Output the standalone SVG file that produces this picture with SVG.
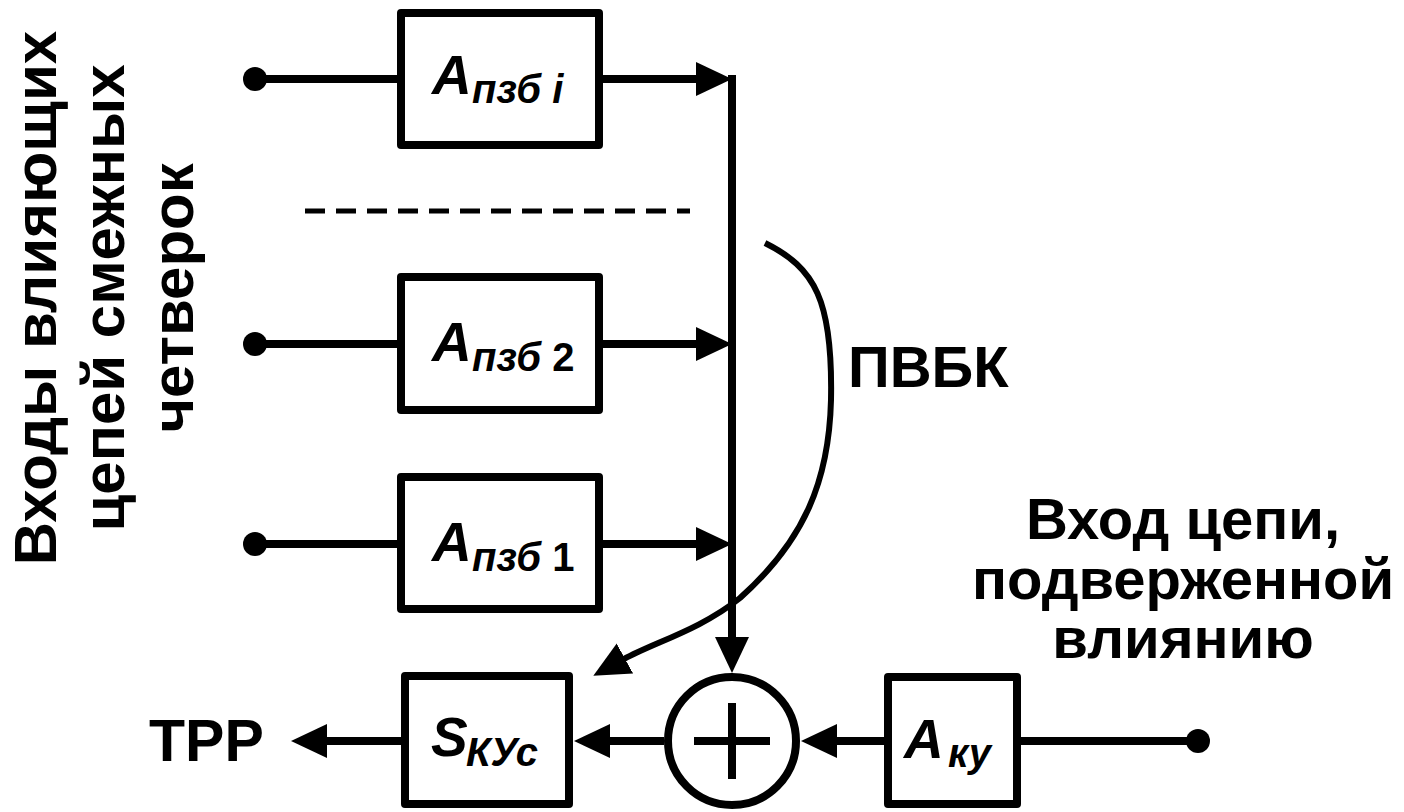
<svg xmlns="http://www.w3.org/2000/svg" width="1404" height="812" viewBox="0 0 1404 812">
<style>
.box{fill:#fff;stroke:#000;stroke-width:8;stroke-linejoin:round}
.ln{fill:none;stroke:#000;stroke-width:8}
.cv{fill:none;stroke:#000;stroke-width:6}
.lbl{font-family:"Liberation Sans",Arial,sans-serif;font-weight:bold;fill:#000}
.big{font-family:"Liberation Sans",Arial,sans-serif;font-weight:bold;font-style:italic;font-size:55px;fill:#000}
.sub{font-family:"Liberation Sans",Arial,sans-serif;font-weight:bold;font-style:italic;font-size:40px;fill:#000}
.up{font-style:normal}
</style>
<defs>
<marker id="ah" markerUnits="userSpaceOnUse" markerWidth="40" markerHeight="36" refX="1" refY="17" orient="auto">
<path d="M0,0 L36,17 L0,34 z" fill="#000"/>
</marker>
</defs>
<rect width="1404" height="812" fill="#fff"/>
<g id="connectors">
<line class="ln" x1="255" y1="79" x2="401" y2="79"/>
<line class="ln" x1="599" y1="79" x2="697" y2="79" marker-end="url(#ah)"/>
<line class="ln" x1="255" y1="344" x2="401" y2="344"/>
<line class="ln" x1="599" y1="344" x2="697" y2="344" marker-end="url(#ah)"/>
<line class="ln" x1="255" y1="544" x2="401" y2="544"/>
<line class="ln" x1="599" y1="544" x2="697" y2="544" marker-end="url(#ah)"/>
<line class="ln" x1="732" y1="75" x2="732" y2="638" marker-end="url(#ah)"/>
<line class="ln" x1="1198" y1="741" x2="1017" y2="741"/>
<line class="ln" x1="888" y1="741" x2="836" y2="741" marker-end="url(#ah)"/>
<line class="ln" x1="664" y1="741" x2="609" y2="741" marker-end="url(#ah)"/>
<line class="ln" x1="405" y1="741" x2="326" y2="741" marker-end="url(#ah)"/>
<path class="cv" d="M765,243 C815,268 833,300 831,400 C829,480 805,540 740,598 C700,630 655,642 624,659" marker-end="url(#ah)"/>
<line x1="305" y1="211" x2="690" y2="211" stroke="#000" stroke-width="5" stroke-dasharray="20 11"/>
</g>
<g id="dots">
<circle cx="255" cy="79" r="12"/>
<circle cx="255" cy="344" r="12"/>
<circle cx="255" cy="544" r="12"/>
<circle cx="1198" cy="741" r="12"/>
</g>
<g id="node-apzb-i">
<rect class="box" x="401" y="13" width="198" height="132"/>
<text class="big" x="432" y="94">A</text>
<text class="sub" x="472" y="103">пзб i</text>
</g>
<g id="node-apzb-2">
<rect class="box" x="401" y="277" width="198" height="133"/>
<text class="big" x="432" y="361">A</text>
<text class="sub" x="472" y="371">пзб <tspan class="up">2</tspan></text>
</g>
<g id="node-apzb-1">
<rect class="box" x="401" y="477" width="198" height="132"/>
<text class="big" x="432" y="561">A</text>
<text class="sub" x="472" y="571">пзб <tspan class="up">1</tspan></text>
</g>
<g id="node-sum">
<circle cx="732" cy="741" r="64" fill="#fff" stroke="#000" stroke-width="8"/>
<line class="ln" x1="694" y1="741" x2="770" y2="741"/>
<line class="ln" x1="732" y1="703" x2="732" y2="779"/>
</g>
<g id="node-skuc">
<rect class="box" x="405" y="676" width="164" height="128"/>
<text class="big" x="431" y="756">S</text>
<text class="sub" x="466" y="766">КУс</text>
</g>
<g id="node-aku">
<rect class="box" x="888" y="677" width="129" height="127"/>
<text class="big" x="904" y="758">A</text>
<text class="sub" x="948" y="767">ку</text>
</g>
<g id="labels">
<text class="lbl" font-size="60" text-anchor="middle" transform="translate(56,298) rotate(-90)">Входы влияющих</text>
<text class="lbl" font-size="60" text-anchor="middle" transform="translate(124,298) rotate(-90)">цепей смежных</text>
<text class="lbl" font-size="60" text-anchor="middle" transform="translate(193,298) rotate(-90)">четверок</text>
<text class="lbl" font-size="58" x="848" y="387">ПВБК</text>
<text class="lbl" font-size="58" text-anchor="middle" x="1183" y="539">Вход цепи,</text>
<text class="lbl" font-size="58" text-anchor="middle" x="1183" y="599">подверженной</text>
<text class="lbl" font-size="58" text-anchor="middle" x="1183" y="658">влиянию</text>
<text class="lbl" font-size="59" x="149" y="761">ТРР</text>
</g>
</svg>
